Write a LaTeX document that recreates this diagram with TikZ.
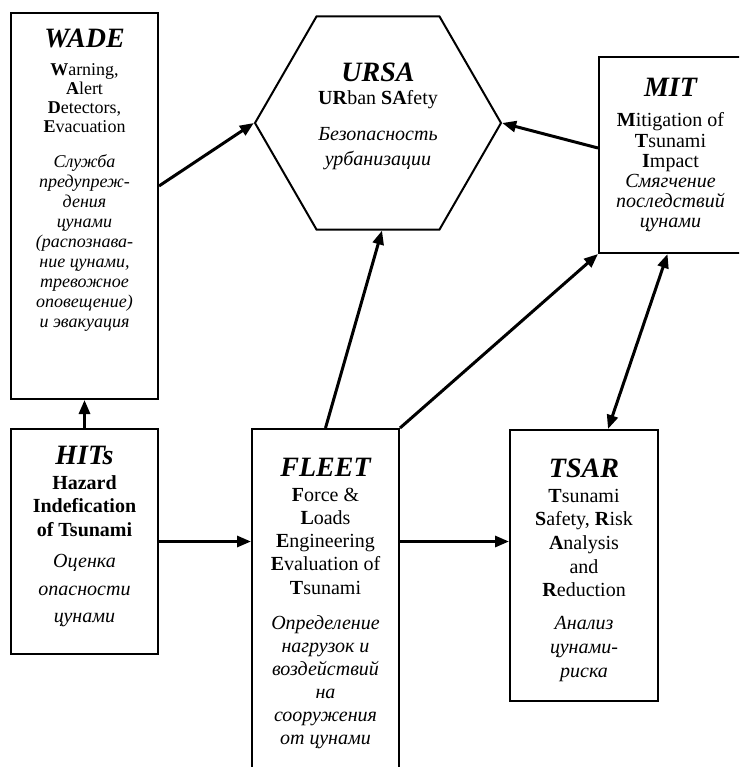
\documentclass[tikz,border=0pt]{standalone}
\usepackage{fontspec}
\setmainfont{Liberation Serif}
\usetikzlibrary{arrows.meta,shapes.geometric}

\hyphenpenalty=10000
\exhyphenpenalty=10000
\newcommand{\ttl}[1]{{\fontsize{28}{28}\selectfont\bfseries\itshape #1}}

\begin{document}
\begin{tikzpicture}[x=1pt, y=-1pt,
  blk/.style={draw, line width=2pt, inner sep=0pt, anchor=north west},
  hexa/.style={draw, line width=2pt, regular polygon, regular polygon sides=6,
    minimum size=246pt, inner sep=0pt},
  arr/.style={line width=3pt, -{Triangle[length=14pt,width=11pt]}},
  dbl/.style={line width=3pt, {Triangle[length=14pt,width=11pt]}-{Triangle[length=14pt,width=11pt]}}]

  \useasboundingbox (0,0) rectangle (739,767);
  \clip (0,0) rectangle (739,767);

  \node [blk] (wade) at (10,12) {\parbox[t][386pt][t]{147pt}{\centering
      \rule{0pt}{35pt}\ttl{WADE}\par
      {\fontsize{18}{19}\selectfont\vspace{9pt}
        \textbf{W}arning,\\ \textbf{A}lert\\ \textbf{D}etectors,\\ \textbf{E}vacuation\par}
      {\fontsize{18}{20}\selectfont\itshape\vspace{15pt}
        Служба\\ предупреж-\\ дения\\ цунами\\ (распознава-\\ ние цунами,\\
        тревожное\\ оповещение)\\ и эвакуация\par}}};

  \node [hexa] (ursa) at (378,123) {\parbox[c]{130pt}{\centering
      \ttl{URSA}\par
      {\fontsize{20}{23}\selectfont
        \textbf{UR}ban \textbf{SA}fety\par}
      {\fontsize{20}{25}\selectfont\itshape\vspace{11pt}
        Безопасность\\ урбанизации\par}
      \vspace{12.6pt}}};

  \node [blk] (mit) at (598,56) {\parbox[t][196pt][t]{143pt}{\centering
      \rule{0pt}{40pt}\ttl{MIT}\par
      {\fontsize{20}{20.3}\selectfont\vspace{9.7pt}
        \textbf{M}itigation of\\ \textbf{T}sunami\\ \textbf{I}mpact\par}
      {\fontsize{20}{20}\selectfont\itshape
        Смягчение\\ последствий\\ цунами\par}}};

  \node [blk] (hits) at (10,428) {\parbox[t][225pt][t]{147pt}{\centering
      \rule{0pt}{35pt}\ttl{HITs}\par
      {\fontsize{20}{23.5}\selectfont\bfseries\vspace{1.5pt}
        Hazard\\ Indefication\\ of Tsunami\par}
      {\fontsize{20}{27.5}\selectfont\itshape\vspace{4pt}
        Оценка\\ опасности\\ цунами\par}}};

  \node [blk] (fleet) at (251,428) {\parbox[t][350pt][t]{147pt}{\centering
      \rule{0pt}{47pt}\ttl{FLEET}\par
      {\fontsize{20}{23.3}\selectfont\vspace{1.7pt}
        \textbf{F}orce \&\\ \textbf{L}oads\\ \textbf{E}ngineering\\
        \textbf{E}valuation of\\ \textbf{T}sunami\par}
      {\fontsize{20}{23}\selectfont\itshape\vspace{12pt}
        Определение\\ нагрузок и\\ воздействий\\ на\\ сооружения\\ от цунами\par}}};

  \node [blk] (tsar) at (509,429) {\parbox[t][271pt][t]{148pt}{\centering
      \rule{0pt}{47pt}\ttl{TSAR}\par
      {\fontsize{20}{23.7}\selectfont\vspace{1.3pt}
        \textbf{T}sunami\\ \textbf{S}afety, \textbf{R}isk\\ \textbf{A}nalysis\\
        and\\ \textbf{R}eduction\par}
      {\fontsize{20}{24}\selectfont\itshape\vspace{9pt}
        Анализ\\ цунами-\\ риска\par}}};

  \path [arr] (hits) edge (wade) ;

  \path [arr] (hits.east) edge (hits.east -| fleet.west) ;

  \path [arr] (fleet.east |- hits.east) edge (tsar.west |- hits.east) ;

  \path [arr] ([yshift=20pt]wade.east) edge (ursa.west) ;

  \path [arr] ([yshift=7pt]mit.west) edge (ursa.east) ;

  \path [arr] (fleet.north) edge ([xshift=4pt]ursa.south) ;

  \path [arr] (fleet.north east) edge (mit.south west) ;

  \path [dbl] ([xshift=-3pt]mit.south) edge ([xshift=24pt]tsar.north) ;

\end{tikzpicture}
\end{document}
